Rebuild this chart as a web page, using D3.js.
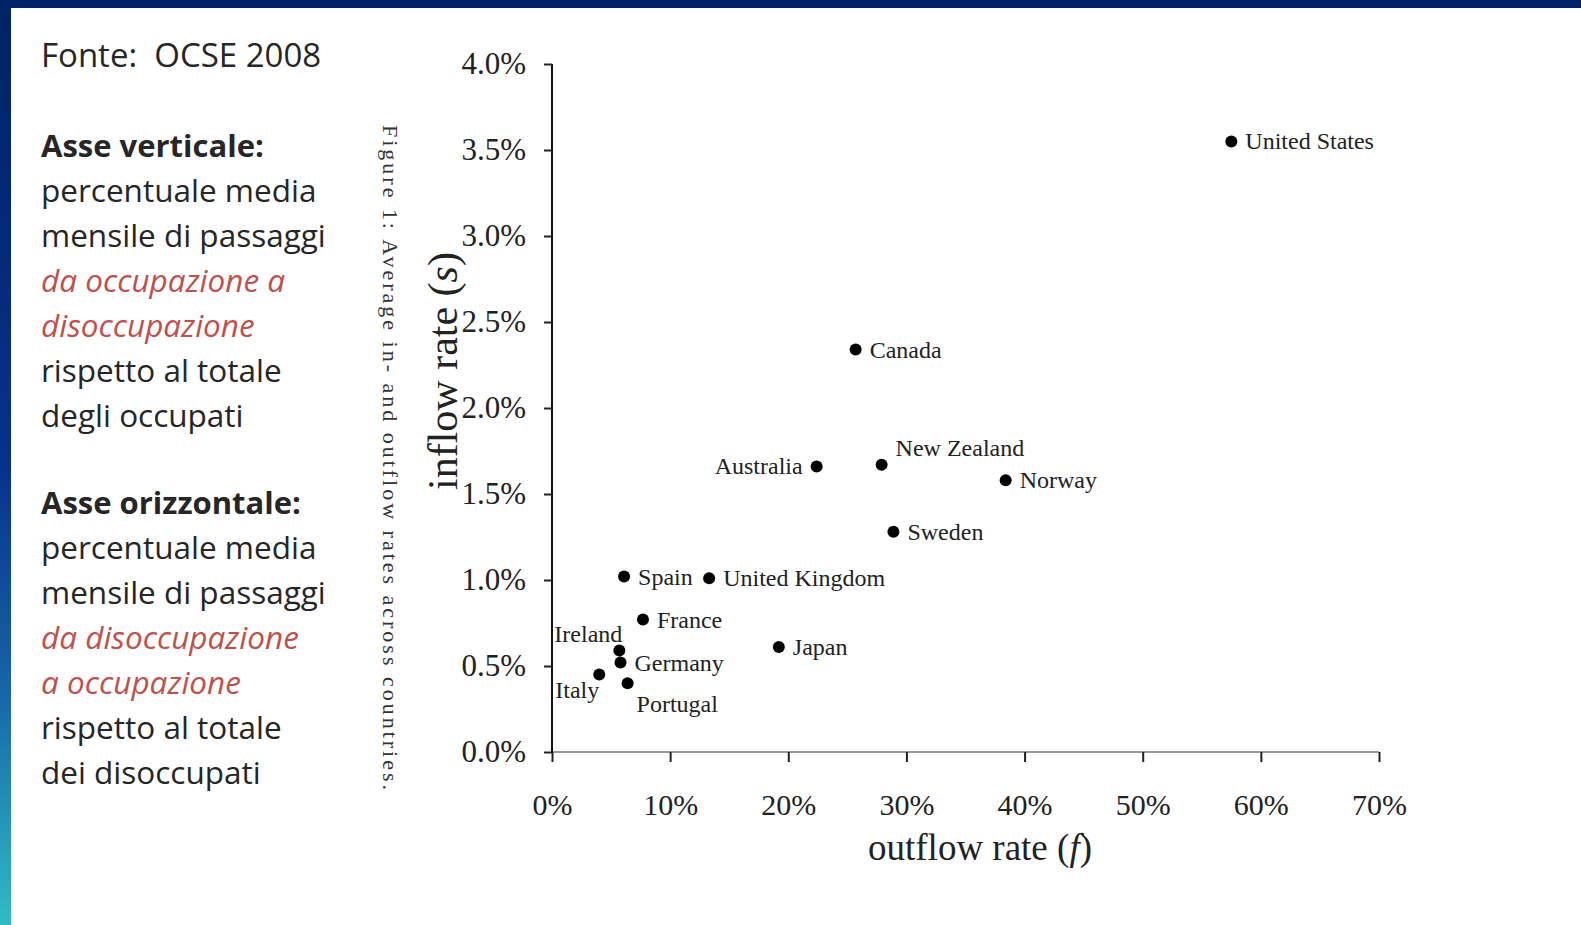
<!DOCTYPE html>
<html>
<head>
<meta charset="utf-8">
<script src="https://cdn.jsdelivr.net/npm/d3@7"></script>
<style>
  body { margin: 0; background: #fff; }
  svg { display: block; }
</style>
</head>
<body>
<div id="viz"></div>
<script>
(function(){
  // data (outflow f, inflow s, in %)
  var countries = ['United States', 'Canada', 'Australia', 'New Zealand', 'Norway', 'Sweden',
    'Spain', 'United Kingdom', 'France', 'Japan', 'Ireland', 'Germany', 'Italy', 'Portugal']
  var outflow = [57.5, 25.7, 22.4, 27.9, 38.4, 28.9, 6.1, 13.3, 7.7, 19.2, 5.7, 5.8, 4.0, 6.4]
  var inflow = [3.55, 2.34, 1.66, 1.67, 1.58, 1.28, 1.02, 1.01, 0.77, 0.61, 0.59, 0.52, 0.45, 0.40]
  // where the name sits relative to its dot
  var labelSide = ['right', 'right', 'left', 'upright', 'right', 'right',
    'right', 'right', 'right', 'right', 'upleft', 'right', 'downleft', 'downright']

  var xTicks = [0, 10, 20, 30, 40, 50, 60, 70]
  var yTicks = [0, 0.5, 1.0, 1.5, 2.0, 2.5, 3.0, 3.5, 4.0]

  var noteLines = [
    {t: 'Fonte:\u00a0 OCSE 2008', s: 'head'},
    null,
    {t: 'Asse verticale:', s: 'bold'},
    {t: 'percentuale media', s: 'plain'},
    {t: 'mensile di passaggi', s: 'plain'},
    {t: 'da occupazione a', s: 'red'},
    {t: 'disoccupazione', s: 'red'},
    {t: 'rispetto al totale', s: 'plain'},
    {t: 'degli occupati', s: 'plain'},
    null,
    {t: 'Asse orizzontale:', s: 'bold'},
    {t: 'percentuale media', s: 'plain'},
    {t: 'mensile di passaggi', s: 'plain'},
    {t: 'da disoccupazione', s: 'red'},
    {t: 'a occupazione', s: 'red'},
    {t: 'rispetto al totale', s: 'plain'},
    {t: 'dei disoccupati', s: 'plain'}
  ]
  var caption = 'Figure 1: Average in- and outflow rates across countries.'

  var W = 1581, H = 925
  var svg = d3.select('#viz').append('svg').attr('width', W).attr('height', H)

  // slide frame
  var grad = svg.append('defs').append('linearGradient')
    .attr('id', 'side').attr('x1', 0).attr('y1', 0).attr('x2', 0).attr('y2', 1)
  grad.append('stop').attr('offset', 0).attr('stop-color', '#002266')
  grad.append('stop').attr('offset', 0.5).attr('stop-color', '#07318a')
  grad.append('stop').attr('offset', 0.75).attr('stop-color', '#1766a8')
  grad.append('stop').attr('offset', 1).attr('stop-color', '#30bcc4')
  svg.append('rect').attr('x', 0).attr('y', 0).attr('width', 11).attr('height', H).attr('fill', 'url(#side)')
  svg.append('rect').attr('x', 0).attr('y', 0).attr('width', W).attr('height', 8).attr('fill', '#002266')

  // left notes
  var notes = svg.append('g').attr('font-family', '"Open Sans", "Noto Sans", sans-serif')
    .attr('font-size', 31.5)
  var sizes = {head: 33, bold: 31, plain: null, red: null}
  var yLine = 67
  noteLines.forEach(function(l, i) {
    if (i == 1) { yLine = 157; return }
    if (l === null) { yLine += 42; return }
    notes.append('text').attr('x', 41).attr('y', yLine)
      .attr('fill', l.s == 'red' ? '#c0504d' : '#262626')
      .attr('font-weight', l.s == 'bold' ? 'bold' : null)
      .attr('font-style', l.s == 'red' ? 'italic' : null)
      .attr('font-size', sizes[l.s])
      .text(l.t)
    yLine += 45
  })

  // vertical caption
  svg.append('text')
    .attr('transform', 'translate(383,125) rotate(90)')
    .attr('font-family', '"Liberation Serif", "Times New Roman", serif')
    .attr('font-size', 22).attr('fill', '#333')
    .attr('textLength', 665).attr('lengthAdjust', 'spacing')
    .text(caption)

  // plot
  var x = d3.scaleLinear().domain([0, 70]).range([552, 1379])
  var y = d3.scaleLinear().domain([0, 4]).range([752, 64])
  var serif = '"Liberation Serif", "Times New Roman", serif'

  var xAxis = svg.append('g').attr('transform', 'translate(0,752)')
    .call(d3.axisBottom(x).tickValues(xTicks).tickSize(10).tickPadding(32)
      .tickFormat(function(d) { return d + '%' }))
  xAxis.select('.domain').attr('stroke', '#9a9a9a').attr('stroke-width', 2)
    .attr('d', 'M552,0H1379')
  xAxis.selectAll('.tick line').attr('stroke', '#222').attr('stroke-width', 2)
  xAxis.selectAll('.tick text').attr('font-family', serif).attr('font-size', 30)
    .attr('fill', '#222')

  var yAxis = svg.append('g').attr('transform', 'translate(552,0)')
    .call(d3.axisLeft(y).tickValues(yTicks).tickSize(8).tickPadding(18)
      .tickFormat(function(d) { return d.toFixed(1) + '%' }))
  yAxis.select('.domain').attr('stroke', '#111').attr('stroke-width', 2)
    .attr('d', 'M0,64V752')
  yAxis.selectAll('.tick line').attr('stroke', '#222').attr('stroke-width', 2)
  yAxis.selectAll('.tick text').attr('font-family', serif).attr('font-size', 31)
    .attr('fill', '#222')

  svg.append('text').attr('x', 980).attr('y', 860).attr('text-anchor', 'middle')
    .attr('font-family', serif).attr('font-size', 37).attr('fill', '#222')
    .html('outflow rate (<tspan font-style="italic">f</tspan>)')
  svg.append('text').attr('transform', 'translate(457,371) rotate(-90)')
    .attr('text-anchor', 'middle')
    .attr('font-family', serif).attr('font-size', 42).attr('fill', '#222')
    .html('inflow rate (<tspan font-style="italic">s</tspan>)')

  var pts = countries.map(function(c, i) {
    return {name: c, f: outflow[i], s: inflow[i], side: labelSide[i]}
  })

  svg.append('g').selectAll('circle').data(pts).enter().append('circle')
    .attr('cx', function(d) { return x(d.f) })
    .attr('cy', function(d) { return y(d.s) })
    .attr('r', 6).attr('fill', '#000')

  var place = {
    right: [14, 8, 'start'], left: [-14, 8, 'end'], upright: [14, -9, 'start'],
    upleft: [3, -9, 'end'], downleft: [0, 23, 'end'], downright: [9, 29, 'start']
  }
  svg.append('g').selectAll('text').data(pts).enter().append('text')
    .attr('x', function(d) { return x(d.f) + place[d.side][0] })
    .attr('y', function(d) { return y(d.s) + place[d.side][1] })
    .attr('text-anchor', function(d) { return place[d.side][2] })
    .attr('font-family', serif).attr('font-size', 24).attr('fill', '#222')
    .text(function(d) { return d.name })
})()
</script>
</body>
</html>
